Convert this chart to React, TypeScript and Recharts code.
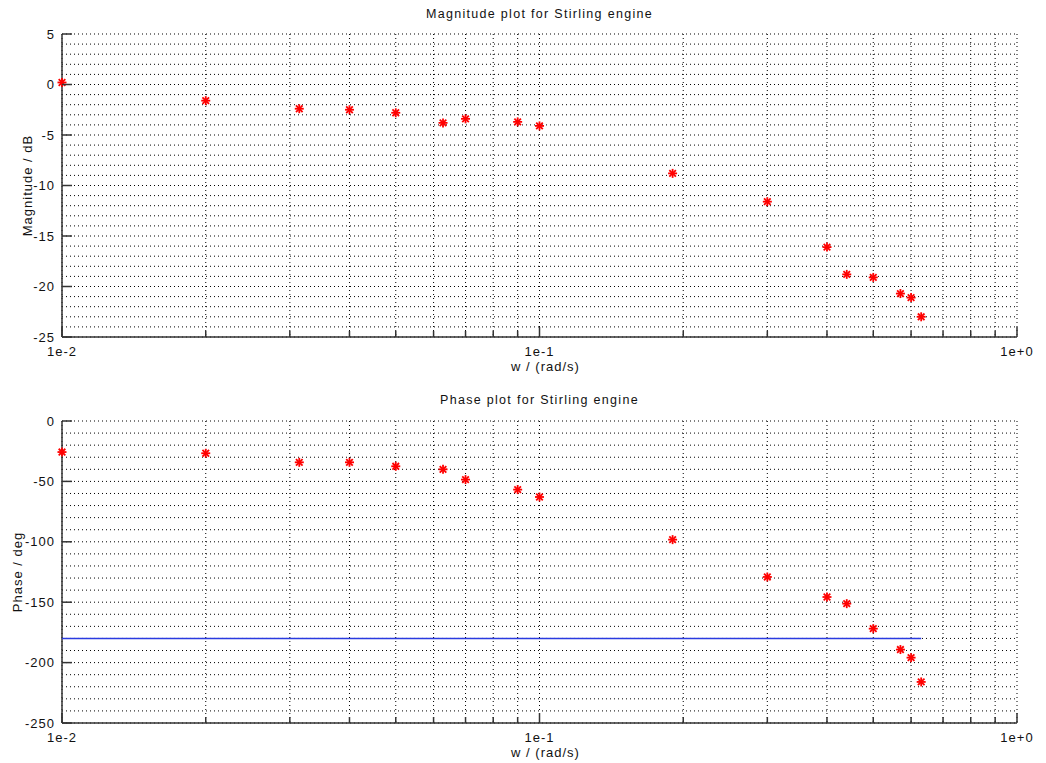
import { ScatterChart, Scatter, XAxis, YAxis, CartesianGrid, Label } from 'recharts';

const FONT = '"Liberation Sans", Arial, Helvetica, sans-serif';
const INK = '#111';
const FRAME = '#333';
const MARK = '#ff0000';
const LIMIT = '#2a3be0';

// measured frequency points (rad/s)
const freqs = [0.01, 0.02, 0.0314, 0.04, 0.05, 0.0628, 0.07, 0.09, 0.1, 0.19, 0.3, 0.4, 0.44, 0.5, 0.57, 0.6, 0.63];
const magnitudeDb = [0.2, -1.6, -2.4, -2.5, -2.8, -3.8, -3.4, -3.7, -4.1, -8.8, -11.6, -16.1, -18.8, -19.1, -20.7, -21.1, -23.0];
const phaseDeg = [-25.7, -26.7, -34.2, -34.2, -37.5, -40.0, -48.5, -56.8, -62.9, -98.2, -129.1, -145.7, -151.2, -171.9, -189.2, -195.9, -216.0];
const phaseLimit = -180;

// log axis: grid at every 1..9 of each decade, labels on decades only
const wTicks = [0.01, 0.02, 0.03, 0.04, 0.05, 0.06, 0.07, 0.08, 0.09, 0.1, 0.2, 0.3, 0.4, 0.5, 0.6, 0.7, 0.8, 0.9, 1];
const wDecades = [0.01, 0.1, 1];
const wDecadeLabels = ['1e-2', '1e-1', '1e+0'];

const magDomain: [number, number] = [-25, 5];
const magLabels = [5, 0, -5, -10, -15, -20, -25];
const phaseDomain: [number, number] = [-250, 0];
const phaseLabels = [0, -50, -100, -150, -200, -250];

const steps = (lo: number, hi: number, step: number) => {
  const out: number[] = [];
  for (let v = lo; v <= hi; v += step) out.push(v);
  return out;
};
const magTicks = steps(-25, 5, 1);
const phaseTicks = steps(-250, 0, 10);

const magData = freqs.map((w, i) => ({ w, v: magnitudeDb[i] }));
const phaseData = freqs.map((w, i) => ({ w, v: phaseDeg[i] }));
const limitData = [
  { w: freqs[0], v: phaseLimit },
  { w: freqs[freqs.length - 1], v: phaseLimit },
];

const decadeIndex = (v: number) => wDecades.findIndex((d) => Math.abs(d - v) < 1e-9);

const tickText = { fontFamily: FONT, fontSize: 13, fill: INK, letterSpacing: 1 };

function BottomTick({ x, y, payload }: any) {
  const i = decadeIndex(payload.value);
  const len = i >= 0 ? 10 : 6;
  return (
    <g>
      <line x1={x} x2={x} y1={y} y2={y - len} stroke={FRAME} strokeWidth={1.5} />
      {i >= 0 && (
        <text x={x} y={y + 19} textAnchor="middle" {...tickText}>
          {wDecadeLabels[i]}
        </text>
      )}
    </g>
  );
}

function TopTick({ x, y, payload }: any) {
  const len = decadeIndex(payload.value) >= 0 ? 10 : 6;
  return <line x1={x} x2={x} y1={y} y2={y + len} stroke={FRAME} strokeWidth={1.5} />;
}

const leftTick = (labels: number[]) =>
  function LeftTick({ x, y, payload }: any) {
    if (!labels.includes(payload.value)) return <g />;
    return (
      <g>
        <line x1={x} x2={x + 10} y1={y} y2={y} stroke={FRAME} strokeWidth={1.5} />
        <text x={x - 7} y={y + 4.5} textAnchor="end" {...tickText}>
          {payload.value}
        </text>
      </g>
    );
  };

const rightTick = (labels: number[]) =>
  function RightTick({ x, y, payload }: any) {
    if (!labels.includes(payload.value)) return <g />;
    return <line x1={x} x2={x - 10} y1={y} y2={y} stroke={FRAME} strokeWidth={1.5} />;
  };

// gnuplot style "*" point
function Asterisk({ cx, cy }: any) {
  const r = 4.5;
  const d = 3.3;
  return (
    <g stroke={MARK} strokeWidth={1.8}>
      <line x1={cx - r} x2={cx + r} y1={cy} y2={cy} />
      <line x1={cx} x2={cx} y1={cy - r} y2={cy + r} />
      <line x1={cx - d} x2={cx + d} y1={cy - d} y2={cy + d} />
      <line x1={cx - d} x2={cx + d} y1={cy + d} y2={cy - d} />
    </g>
  );
}

const frameLine = { stroke: FRAME, strokeWidth: 1.5 };

interface PlotProps {
  title: string;
  yLabel: string;
  yLabelDx: number;
  data: { w: number; v: number }[];
  domain: [number, number];
  ticks: number[];
  labels: number[];
  top: number;
  height: number;
  margin: { top: number; right: number; bottom: number; left: number };
  titleTop: number;
  limit?: { w: number; v: number }[];
}

function BodePlot(p: PlotProps) {
  return (
    <div style={{ position: 'absolute', left: 0, top: p.top, width: 1046, height: p.height }}>
      <div
        style={{
          position: 'absolute',
          left: 62,
          width: 955,
          top: p.titleTop,
          textAlign: 'center',
          fontFamily: FONT,
          fontSize: 12.5,
          lineHeight: '13px',
          letterSpacing: 1.3,
          color: INK,
        }}
      >
        {p.title}
      </div>
      <ScatterChart width={1046} height={p.height} margin={p.margin}>
        <CartesianGrid stroke="#000" strokeDasharray="1 3" strokeWidth={1} />
        <XAxis
          dataKey="w"
          type="number"
          scale="log"
          domain={[0.01, 1]}
          ticks={wTicks}
          interval={0}
          height={34}
          tickSize={0}
          tickMargin={0}
          tickLine={false}
          axisLine={frameLine}
          tick={BottomTick}
        >
          <Label value="w / (rad/s)" position="insideBottom" offset={0} dx={6} style={{ fontFamily: FONT, fontSize: 13, fill: INK, letterSpacing: 1 }} />
        </XAxis>
        <XAxis
          xAxisId="top"
          orientation="top"
          type="number"
          scale="log"
          domain={[0.01, 1]}
          ticks={wTicks}
          interval={0}
          height={0}
          tickSize={0}
          tickMargin={0}
          tickLine={false}
          axisLine={frameLine}
          tick={TopTick}
        />
        <YAxis
          dataKey="v"
          type="number"
          domain={p.domain}
          ticks={p.ticks}
          interval={0}
          width={50}
          tickSize={0}
          tickMargin={0}
          tickLine={false}
          axisLine={frameLine}
          tick={leftTick(p.labels)}
        >
          <Label value={p.yLabel} angle={-90} position="center" dx={p.yLabelDx} style={{ fontFamily: FONT, fontSize: 13, fill: INK, letterSpacing: 1 }} />
        </YAxis>
        <YAxis
          yAxisId="right"
          orientation="right"
          type="number"
          domain={p.domain}
          ticks={p.ticks}
          interval={0}
          width={0}
          tickSize={0}
          tickMargin={0}
          tickLine={false}
          axisLine={frameLine}
          tick={rightTick(p.labels)}
        />
        {p.limit && (
          <Scatter
            data={p.limit}
            line={{ stroke: LIMIT, strokeWidth: 1.5 }}
            shape={() => <g />}
            isAnimationActive={false}
          />
        )}
        <Scatter data={p.data} shape={Asterisk} isAnimationActive={false} />
      </ScatterChart>
    </div>
  );
}

export default function App() {
  return (
    <div style={{ position: 'absolute', left: 0, top: 0, width: 1046, height: 763, background: '#fff', overflow: 'hidden' }}>
      <BodePlot
        title="Magnitude plot for Stirling engine"
        yLabel="Magnitude / dB"
        yLabelDx={-10}
        data={magData}
        domain={magDomain}
        ticks={magTicks}
        labels={magLabels}
        top={0}
        height={381}
        margin={{ top: 34, right: 29, bottom: 10, left: 12 }}
        titleTop={8}
      />
      <BodePlot
        title="Phase plot for Stirling engine"
        yLabel="Phase / deg"
        yLabelDx={-20}
        data={phaseData}
        domain={phaseDomain}
        ticks={phaseTicks}
        labels={phaseLabels}
        top={381}
        height={382}
        margin={{ top: 40, right: 29, bottom: 6, left: 12 }}
        titleTop={13}
        limit={limitData}
      />
    </div>
  );
}
